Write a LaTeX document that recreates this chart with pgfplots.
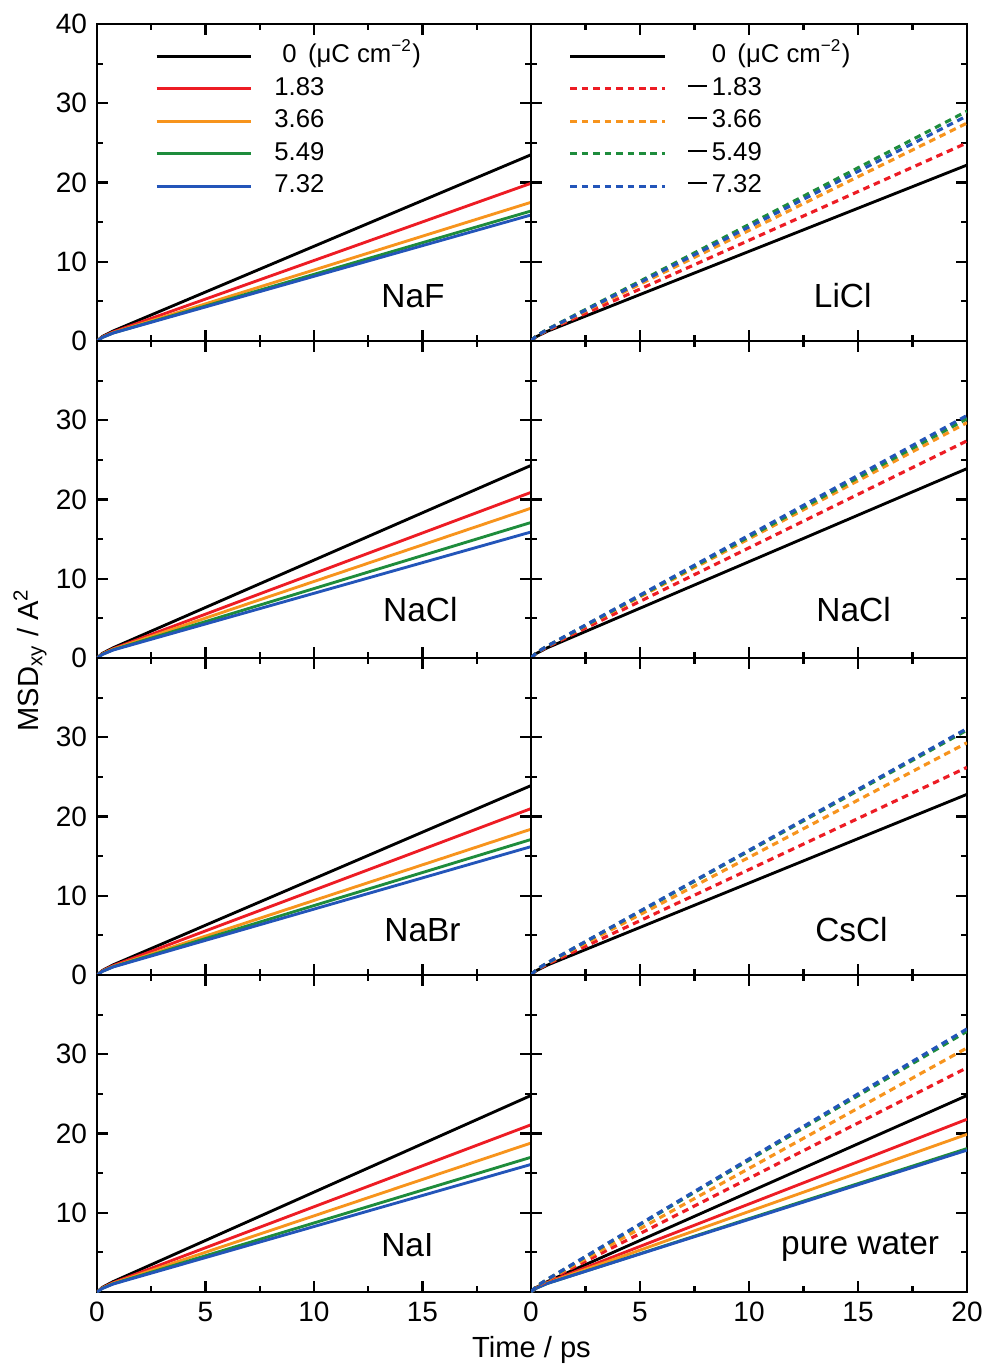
\documentclass[border=0pt]{standalone}
\usepackage{fontspec}
\setmainfont{Liberation Sans}
\usepackage{pgfplots}
\usepackage{pgfplotstable}
\pgfplotsset{compat=1.18}

\definecolor{cR}{RGB}{237,28,36}
\definecolor{cO}{RGB}{247,148,29}
\definecolor{cG}{RGB}{30,140,60}
\definecolor{cB}{RGB}{35,85,185}

\newcommand{\mminus}{\rule[2.9pt]{6.6pt}{0.75pt}\hspace{1.6pt}}

\pgfplotstableread{
t s0 p1 p2 p3 p4
0 0 0 0 0 0
0.25 0.57 0.52 0.48 0.46 0.45
0.75 1.27 1.15 1.06 1.02 1.01
20 23.5 19.9 17.5 16.4 15.9
}\tNaF
\pgfplotstableread{
t s0 n1 n2 n3 n4
0 0 0 0 0 0
0.25 0.55 0.60 0.63 0.66 0.65
0.75 1.23 1.33 1.41 1.47 1.44
20 22.2 25.0 27.5 29.0 28.4
}\tLiCl
\pgfplotstableread{
t s0 p1 p2 p3 p4
0 0 0 0 0 0
0.25 0.59 0.53 0.50 0.47 0.45
0.75 1.30 1.18 1.11 1.05 1.01
20 24.3 20.9 18.9 17.1 15.9
}\tNaClL
\pgfplotstableread{
t s0 n1 n2 n3 n4
0 0 0 0 0 0
0.25 0.58 0.63 0.67 0.68 0.68
0.75 1.29 1.41 1.49 1.51 1.52
20 23.9 27.4 29.7 30.2 30.6
}\tNaClR
\pgfplotstableread{
t s0 p1 p2 p3 p4
0 0 0 0 0 0
0.25 0.58 0.54 0.49 0.47 0.46
0.75 1.29 1.19 1.09 1.05 1.02
20 23.9 21.0 18.4 17.1 16.2
}\tNaBr
\pgfplotstableread{
t s0 n1 n2 n3 n4
0 0 0 0 0 0
0.25 0.56 0.62 0.67 0.69 0.69
0.75 1.25 1.37 1.48 1.53 1.54
20 22.8 26.2 29.3 30.9 31.1
}\tCsCl
\pgfplotstableread{
t s0 p1 p2 p3 p4
0 0 0 0 0 0
0.25 0.59 0.54 0.50 0.47 0.45
0.75 1.32 1.19 1.11 1.05 1.01
20 24.8 21.1 18.8 17.0 16.1
}\tNaI
\pgfplotstableread{
t s0 p1 p2 p3 p4 n1 n2 n3 n4
0 0 0 0 0 0 0 0 0 0
0.25 0.59 0.54 0.52 0.49 0.49 0.65 0.69 0.72 0.72
0.75 1.32 1.21 1.15 1.08 1.08 1.44 1.53 1.60 1.61
20 24.8 21.8 19.9 18.1 17.9 28.3 30.8 32.9 33.2
}\tWater

\tikzset{
  salt/.style={font=\fontsize{11.7}{13}\selectfont},
  dsh/.style={dash pattern=on 2.3pt off 1.7pt, line width=1.1pt},
}
\pgfplotsset{
  panel/.style={
    scale only axis, height=110.95pt,
    xmin=0, xmax=20, ymin=0, ymax=40,
    xtick={0,5,...,20}, ytick={0,10,...,40},
    minor x tick num=1, minor y tick num=1,
    tick align=inside, major tick length=3.8pt, minor tick length=2.1pt,
    axis line style={line width=0.75pt},
    every tick/.style={line width=0.75pt, black},
    tick label style={font=\fontsize{9.8}{11}\selectfont},
    /pgf/number format/assume math mode=true,
    xticklabels={}, yticklabels={},
    every axis plot/.append style={line width=1pt},
    legend image code/.code={\draw[#1] (0pt,0pt) -- (33pt,0pt);},
    legend cell align=left,
  },
  lcol/.style={panel, width=151.9pt},
  rcol/.style={panel, width=152.6pt},
}

\begin{document}
\begin{tikzpicture}
\useasboundingbox (0pt,0pt) rectangle (345.45pt,-478.8pt);

% ---------- Row 1 ----------
\begin{axis}[lcol, at={(33.95pt,-8.4pt)}, anchor=north west,
  yticklabels={0,10,20,30,40},
  legend style={at={(rel axis cs:0.113,0.958)}, anchor=north west, draw=none, fill=none,
    font=\fontsize{9}{10}\selectfont, row sep=2.6pt, column sep=7.7pt,
    nodes={inner sep=0pt, text height=6.6pt, text depth=2.2pt}}]
\addplot[black] table[x=t,y=s0]{\tNaF};
\addlegendentry{\hspace{2.8pt}0\hspace{4pt}(μC cm\textsuperscript{−2})}
\addplot[cR] table[x=t,y=p1]{\tNaF};
\addlegendentry{1.83}
\addplot[cO] table[x=t,y=p2]{\tNaF};
\addlegendentry{3.66}
\addplot[cG] table[x=t,y=p3]{\tNaF};
\addlegendentry{5.49}
\addplot[cB] table[x=t,y=p4]{\tNaF};
\addlegendentry{7.32}
\node[salt] at (axis cs:14.56,5.7) {NaF};
\end{axis}

\begin{axis}[rcol, at={(185.85pt,-8.4pt)}, anchor=north west,
  legend style={at={(rel axis cs:0.066,0.958)}, anchor=north west, draw=none, fill=none,
    font=\fontsize{9}{10}\selectfont, row sep=2.6pt, column sep=7.7pt,
    nodes={inner sep=0pt, text height=6.6pt, text depth=2.2pt}}]
\addplot[black] table[x=t,y=s0]{\tLiCl};
\addlegendentry{\phantom{\mminus}0\hspace{4pt}(μC cm\textsuperscript{−2})}
\addplot[cR,dsh] table[x=t,y=n1]{\tLiCl};
\addlegendentry{\mminus 1.83}
\addplot[cO,dsh] table[x=t,y=n2]{\tLiCl};
\addlegendentry{\mminus 3.66}
\addplot[cG,dsh] table[x=t,y=n3]{\tLiCl};
\addlegendentry{\mminus 5.49}
\addplot[cB,dsh] table[x=t,y=n4]{\tLiCl};
\addlegendentry{\mminus 7.32}
\node[salt] at (axis cs:14.3,5.7) {LiCl};
\end{axis}

% ---------- Row 2 ----------
\begin{axis}[lcol, at={(33.95pt,-119.35pt)}, anchor=north west,
  yticklabels={0,10,20,30,{}}]
\addplot[black] table[x=t,y=s0]{\tNaClL};
\addplot[cR] table[x=t,y=p1]{\tNaClL};
\addplot[cO] table[x=t,y=p2]{\tNaClL};
\addplot[cG] table[x=t,y=p3]{\tNaClL};
\addplot[cB] table[x=t,y=p4]{\tNaClL};
\node[salt] at (axis cs:14.9,6.1) {NaCl};
\end{axis}

\begin{axis}[rcol, at={(185.85pt,-119.35pt)}, anchor=north west]
\addplot[black] table[x=t,y=s0]{\tNaClR};
\addplot[cR,dsh] table[x=t,y=n1]{\tNaClR};
\addplot[cO,dsh] table[x=t,y=n2]{\tNaClR};
\addplot[cG,dsh] table[x=t,y=n3]{\tNaClR};
\addplot[cB,dsh] table[x=t,y=n4]{\tNaClR};
\node[salt] at (axis cs:14.8,6.1) {NaCl};
\end{axis}

% ---------- Row 3 ----------
\begin{axis}[lcol, at={(33.95pt,-230.3pt)}, anchor=north west,
  yticklabels={0,10,20,30,{}}]
\addplot[black] table[x=t,y=s0]{\tNaBr};
\addplot[cR] table[x=t,y=p1]{\tNaBr};
\addplot[cO] table[x=t,y=p2]{\tNaBr};
\addplot[cG] table[x=t,y=p3]{\tNaBr};
\addplot[cB] table[x=t,y=p4]{\tNaBr};
\node[salt] at (axis cs:15.0,5.7) {NaBr};
\end{axis}

\begin{axis}[rcol, at={(185.85pt,-230.3pt)}, anchor=north west]
\addplot[black] table[x=t,y=s0]{\tCsCl};
\addplot[cR,dsh] table[x=t,y=n1]{\tCsCl};
\addplot[cO,dsh] table[x=t,y=n2]{\tCsCl};
\addplot[cG,dsh] table[x=t,y=n3]{\tCsCl};
\addplot[cB,dsh] table[x=t,y=n4]{\tCsCl};
\node[salt] at (axis cs:14.7,5.7) {CsCl};
\end{axis}

% ---------- Row 4 ----------
\begin{axis}[lcol, at={(33.95pt,-341.25pt)}, anchor=north west,
  yticklabels={{},10,20,30,{}}, xticklabels={0,5,10,15,{}}]
\addplot[black] table[x=t,y=s0]{\tNaI};
\addplot[cR] table[x=t,y=p1]{\tNaI};
\addplot[cO] table[x=t,y=p2]{\tNaI};
\addplot[cG] table[x=t,y=p3]{\tNaI};
\addplot[cB] table[x=t,y=p4]{\tNaI};
\node[salt] at (axis cs:14.3,5.9) {NaI};
\end{axis}

\begin{axis}[rcol, at={(185.85pt,-341.25pt)}, anchor=north west,
  xticklabels={0,5,10,15,20}]
\addplot[black] table[x=t,y=s0]{\tWater};
\addplot[cR] table[x=t,y=p1]{\tWater};
\addplot[cO] table[x=t,y=p2]{\tWater};
\addplot[cG] table[x=t,y=p3]{\tWater};
\addplot[cB] table[x=t,y=p4]{\tWater};
\addplot[cR,dsh] table[x=t,y=n1]{\tWater};
\addplot[cO,dsh] table[x=t,y=n2]{\tWater};
\addplot[cG,dsh] table[x=t,y=n3]{\tWater};
\addplot[cB,dsh] table[x=t,y=n4]{\tWater};
\node[salt] at (axis cs:15.1,5.6) {pure water};
\end{axis}

% axis titles
\node[rotate=90, font=\fontsize{10.2}{12}\selectfont] at (10.5pt,-231pt) {MSD\textsubscript{xy} / A\textsuperscript{2}};
\node[font=\fontsize{10.2}{12}\selectfont] at (186pt,-472.5pt) {Time / ps};
\end{tikzpicture}
\end{document}
